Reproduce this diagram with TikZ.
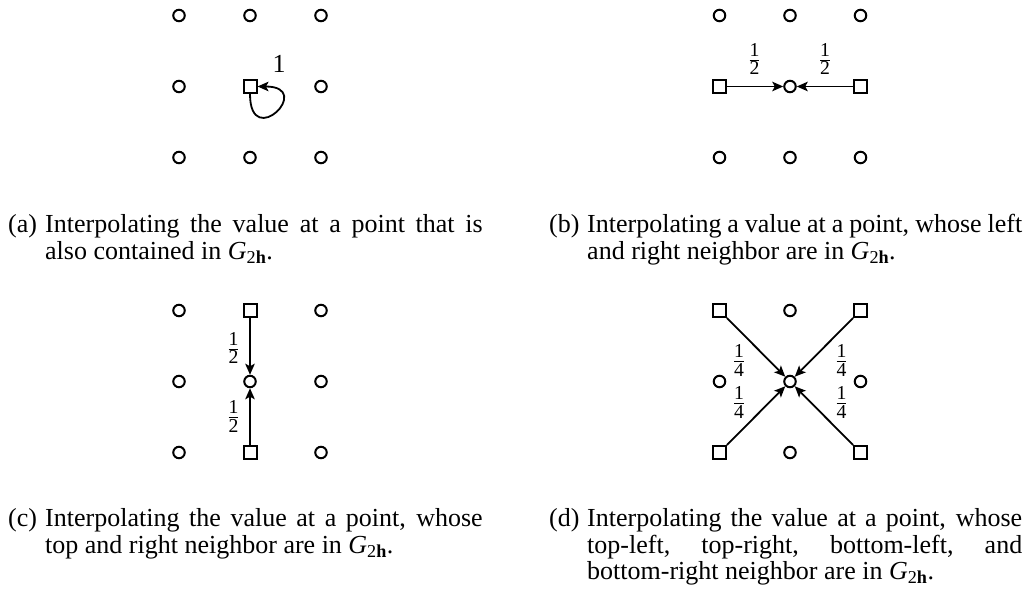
\documentclass[tikz,border=0pt]{standalone}
\usepackage{fontspec}
\setmainfont{Liberation Serif}
\usetikzlibrary{arrows.meta}

% stacked weight fraction set in the text font
\newcommand\wfrac[2]{$\frac{\mbox{\fontsize{19.7}{21}\selectfont#1}}{\mbox{\fontsize{19.7}{21}\selectfont#2}}$}
\newcommand\coarse{\textit{G}\textsubscript{2\textbf{h}}}

\begin{document}
\begin{tikzpicture}[x=1pt,y=-1pt,
  pt/.style={circle, draw, line width=2pt, minimum size=11.5pt, inner sep=0pt},
  sq/.style={rectangle, draw, line width=2pt, minimum size=13pt, inner sep=0pt},
  arr/.style={line width=1.8pt, -{Stealth[length=11pt,width=9.5pt,inset=2.5pt]}},
  wt/.style={inner sep=0pt, font=\fontsize{26}{28}\selectfont},
  capl/.style={anchor=base west, inner sep=0pt, font=\fontsize{26}{26.7}\selectfont},
  capb/.style={capl, text width=#1, align=justify,
    execute at begin node={\tolerance=9999\hyphenpenalty=10000}},
  capb/.default=437.5pt]
\useasboundingbox (0,0) rectangle (1032,601);

% (a) restriction: the coarse point keeps its value
\node[pt] (a1) at (179,15.5) {};
\node[pt] (a2) at (250,15.5) {};
\node[pt] (a3) at (321,15.5) {};
\node[pt] (a4) at (179,86.5) {};
\node[sq] (a5) at (250,86.5) {};
\node[pt] (a6) at (321,86.5) {};
\node[pt] (a7) at (179,157.5) {};
\node[pt] (a8) at (250,157.5) {};
\node[pt] (a9) at (321,157.5) {};
\draw[arr] (a5.south) .. controls +(0,58) and +(58,0) .. (a5.east);
\node[wt] (wa) at (279,64) {1};

% (b) horizontal neighbours
\node[pt] (b1) at (719.5,15.5) {};
\node[pt] (b2) at (790,15.5) {};
\node[pt] (b3) at (860.5,15.5) {};
\node[sq] (b4) at (719.5,86.5) {};
\node[pt] (b5) at (790,86.5) {};
\node[sq] (b6) at (860.5,86.5) {};
\node[pt] (b7) at (719.5,157.5) {};
\node[pt] (b8) at (790,157.5) {};
\node[pt] (b9) at (860.5,157.5) {};
\draw[arr] (b4) -- (b5);
\draw[arr] (b6) -- (b5);
\node[wt] (wb1) at (754.5,59) {\wfrac{1}{2}};
\node[wt] (wb2) at (825,59) {\wfrac{1}{2}};

% (c) vertical neighbours
\node[pt] (c1) at (179,310.5) {};
\node[sq] (c2) at (250,310.5) {};
\node[pt] (c3) at (321,310.5) {};
\node[pt] (c4) at (179,381.5) {};
\node[pt] (c5) at (250,381.5) {};
\node[pt] (c6) at (321,381.5) {};
\node[pt] (c7) at (179,452.5) {};
\node[sq] (c8) at (250,452.5) {};
\node[pt] (c9) at (321,452.5) {};
\draw[arr] (c2) -- (c5);
\draw[arr] (c8) -- (c5);
\node[wt] (wc1) at (233.5,348) {\wfrac{1}{2}};
\node[wt] (wc2) at (233.5,416.5) {\wfrac{1}{2}};

% (d) diagonal neighbours
\node[sq] (d1) at (719.5,310.5) {};
\node[pt] (d2) at (790,310.5) {};
\node[sq] (d3) at (860.5,310.5) {};
\node[pt] (d4) at (719.5,381.5) {};
\node[pt] (d5) at (790,381.5) {};
\node[pt] (d6) at (860.5,381.5) {};
\node[sq] (d7) at (719.5,452.5) {};
\node[pt] (d8) at (790,452.5) {};
\node[sq] (d9) at (860.5,452.5) {};
\draw[arr] (d1) -- (d5);
\draw[arr] (d3) -- (d5);
\draw[arr] (d7) -- (d5);
\draw[arr] (d9) -- (d5);
\node[wt] (wd1) at (739,360.5) {\wfrac{1}{4}};
\node[wt] (wd2) at (739,402.5) {\wfrac{1}{4}};
\node[wt] (wd3) at (841.5,360.5) {\wfrac{1}{4}};
\node[wt] (wd4) at (841.5,402.5) {\wfrac{1}{4}};

% captions
\node[capl] (la) at (8,233) {(a)};
\node[capb] (ta) at (45,233) {Interpolating the value at a point that is\linebreak also contained in \coarse.};
\node[capl] (lb) at (549,233) {(b)};
\node[capb=435pt] (tb) at (587,233) {Interpolating a value at a point, whose left\linebreak and right neighbor are in \coarse.};
\node[capl] (lc) at (8,526.5) {(c)};
\node[capb] (tc) at (45,526.5) {Interpolating the value at a point, whose\linebreak top and right neighbor are in \coarse.};
\node[capl] (ld) at (549,526.5) {(d)};
\node[capb=435pt] (td) at (587,526.5) {Interpolating the value at a point, whose\linebreak top-left, top-right, bottom-left, and\linebreak bottom-right neighbor are in \coarse.};
\end{tikzpicture}
\end{document}
